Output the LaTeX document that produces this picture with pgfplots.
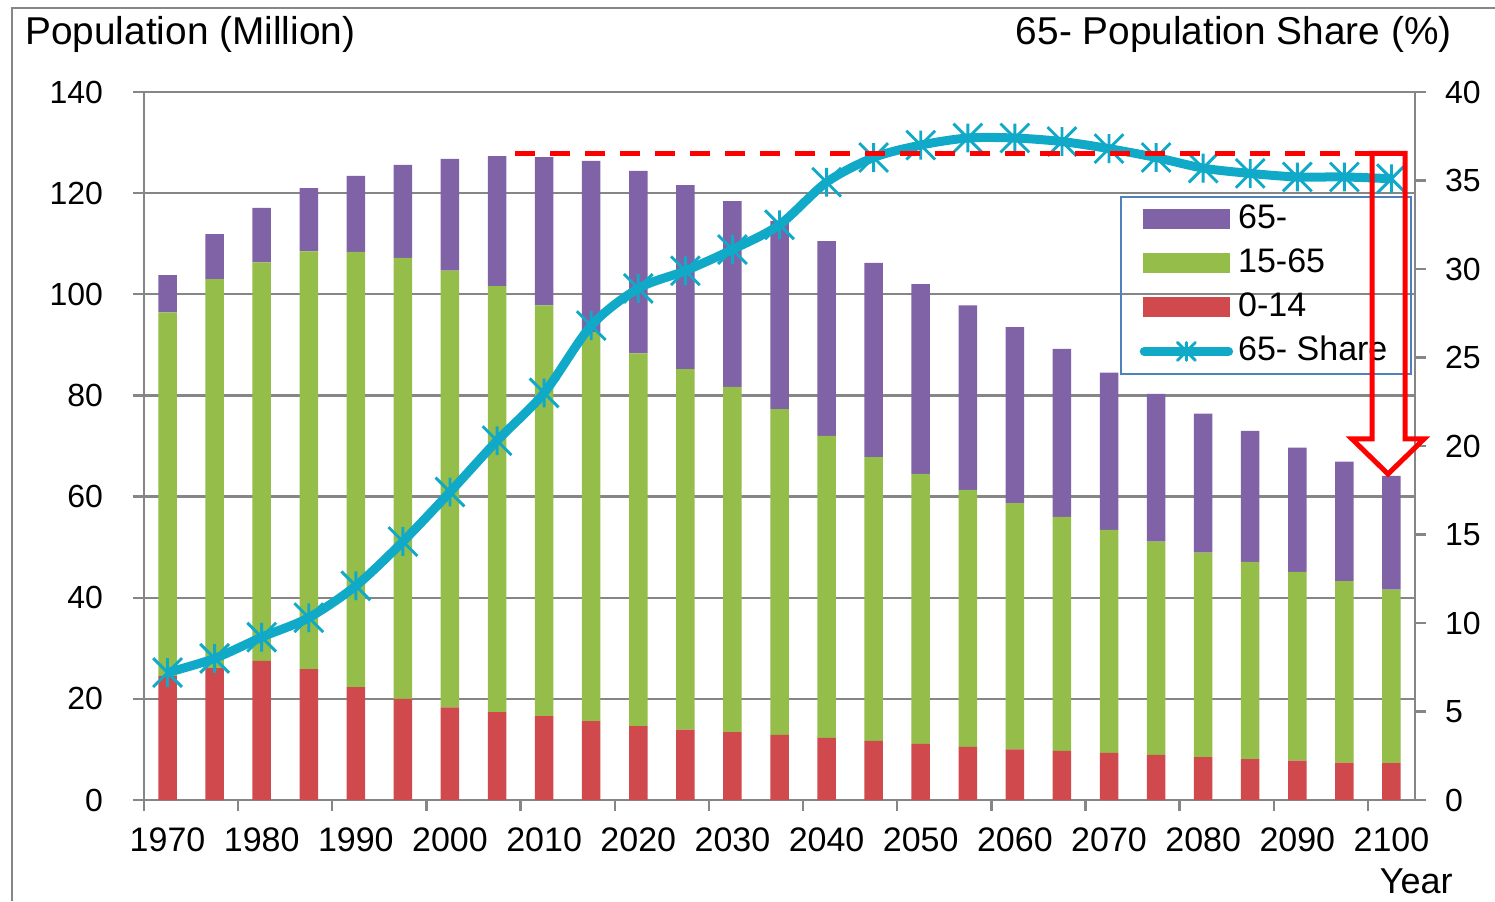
\documentclass[border=0pt]{standalone}
\usepackage{fontspec}
\setmainfont{Liberation Sans}
\usepackage{pgfplots}
\pgfplotsset{compat=1.18}
\usepackage{pgfplotstable}

\definecolor{colold}{RGB}{128,98,166}
\definecolor{colwork}{RGB}{148,189,74}
\definecolor{colyoung}{RGB}{207,73,77}
\definecolor{colshare}{RGB}{16,170,200}
\definecolor{axgray}{RGB}{134,134,134}
\definecolor{lgblue}{RGB}{79,129,189}

% Excel-style star marker: an X with a vertical bar
\pgfdeclareplotmark{xstar}{%
  \pgfpathmoveto{\pgfqpoint{0pt}{\pgfplotmarksize}}%
  \pgfpathlineto{\pgfqpoint{0pt}{-\pgfplotmarksize}}%
  \pgfpathmoveto{\pgfqpoint{-\pgfplotmarksize}{-\pgfplotmarksize}}%
  \pgfpathlineto{\pgfqpoint{\pgfplotmarksize}{\pgfplotmarksize}}%
  \pgfpathmoveto{\pgfqpoint{-\pgfplotmarksize}{\pgfplotmarksize}}%
  \pgfpathlineto{\pgfqpoint{\pgfplotmarksize}{-\pgfplotmarksize}}%
  \pgfusepathqstroke}

\pgfplotsset{
  barlegend/.style={legend image code/.code={%
    \path (-9.3pt,0pt) (44.7pt,0pt);
    \fill[#1] (0pt,-4.6pt) rectangle (42.2pt,4.6pt);}},
  linelegend/.style={legend image code/.code={%
    \path (-9.3pt,0pt) (44.7pt,0pt);
    \draw[##1, line cap=round, mark size=4.5pt, mark repeat=2, mark phase=2]
      plot coordinates {(0pt,0pt) (21.1pt,0pt) (42.2pt,0pt)};}},
}

\pgfplotstableread{
i year young work old share
0 1970 24.5 71.9 7.4 7.2
1 1975 26.1 76.9 8.9 8.0
2 1980 27.5 78.8 10.8 9.2
3 1985 25.9 82.6 12.5 10.3
4 1990 22.3 86.1 15.0 12.1
5 1995 20.0 87.2 18.4 14.6
6 2000 18.3 86.4 22.1 17.4
7 2005 17.4 84.2 25.7 20.3
8 2010 16.6 81.2 29.3 23.0
9 2015 15.6 76.9 33.9 26.8
10 2020 14.6 73.7 36.1 28.9
11 2025 13.9 71.3 36.4 29.9
12 2030 13.4 68.3 36.7 31.1
13 2035 12.9 64.4 37.2 32.5
14 2040 12.3 59.7 38.5 34.9
15 2045 11.7 56.1 38.4 36.3
16 2050 11.1 53.4 37.5 37.0
17 2055 10.5 50.8 36.5 37.4
18 2060 10.0 48.7 34.8 37.4
19 2065 9.7 46.3 33.2 37.2
20 2070 9.3 44.1 31.1 36.8
21 2075 8.9 42.2 29.2 36.3
22 2080 8.5 40.4 27.5 35.7
23 2085 8.1 39.0 25.9 35.4
24 2090 7.8 37.3 24.6 35.2
25 2095 7.4 35.9 23.6 35.2
26 2100 7.3 34.3 22.5 35.1
}\pop

\newcommand{\tickfont}{\fontsize{16}{19}\selectfont}

\begin{document}
\begin{tikzpicture}
\useasboundingbox (0,0) rectangle (747.5pt,450.5pt);

% chart frame (cropped)
\draw[axgray, line width=1pt] (6pt,0pt) -- (6pt,446.5pt) -- (747.5pt,446.5pt);

\begin{axis}[
  at={(72pt,50.5pt)}, anchor=south west,
  scale only axis, width=635.5pt, height=354pt,
  xmin=-0.5, xmax=26.5, ymin=0, ymax=140,
  ybar stacked, bar width=9.25pt,
  axis x line*=bottom, axis y line*=left,
  axis line style={draw=axgray, line width=1.2pt},
  ytick={0,20,...,140},
  ymajorgrids, grid style={draw=axgray, line width=1.2pt},
  xtick={-0.5,1.5,...,25.5}, xticklabels={},
  extra x ticks={0,2,...,26},
  extra x tick labels={1970,1980,1990,2000,2010,2020,2030,2040,2050,2060,2070,2080,2090,2100},
  extra x tick style={major tick length=0pt},
  tick align=outside, major tick length=5.5pt,
  tick style={draw=axgray, line width=1.2pt},
  tick label style={font=\tickfont},
  xticklabel style={font=\fontsize{17}{20}\selectfont},
  /pgf/number format/assume math mode=true,
  yticklabel shift=11.5pt,
  xticklabel shift=10.5pt,
]
\addplot[fill=colyoung, draw=none] table[x=i, y=young]{\pop};
\addplot[fill=colwork, draw=none] table[x=i, y=work]{\pop};
\addplot[fill=colold, draw=none] table[x=i, y=old]{\pop};
\end{axis}

\begin{axis}[
  at={(72pt,50.5pt)}, anchor=south west,
  scale only axis, width=635.5pt, height=354pt,
  xmin=-0.5, xmax=26.5, ymin=0, ymax=40,
  axis x line=none, axis y line*=right,
  axis line style={draw=axgray, line width=1.2pt},
  ytick={0,5,...,40},
  tick align=outside, major tick length=5.5pt,
  tick style={draw=axgray, line width=1.2pt},
  tick label style={font=\tickfont},
  /pgf/number format/assume math mode=true,
  yticklabel shift=6pt,
  legend style={at={(0.768,0.8535)}, anchor=north west,
    draw=lgblue, line width=1pt, fill=none, inner sep=0pt,
    row sep=0pt,
    nodes={inner xsep=0pt, inner ysep=2.75pt, text height=13pt, text depth=3.6pt,
      font=\fontsize{17}{20}\selectfont}},
  legend cell align=left,
]
\addlegendimage{barlegend=colold}
\addlegendimage{barlegend=colwork}
\addlegendimage{barlegend=colyoung}
\addplot[colshare, line width=4.5pt, smooth, mark=xstar, mark size=7.2pt,
  mark options={line width=1.45pt, solid}, linelegend]
  table[x=i, y=share]{\pop};
\legend{\makebox[86.2pt][l]{65-},\makebox[86.2pt][l]{15-65},\makebox[86.2pt][l]{0-14},\makebox[86.2pt][l]{65- Share}}
\end{axis}

% red reference line and arrow
\draw[red, line width=2.5pt, dash pattern=on 10pt off 7.5pt]
  (257.5pt,373.75pt) -- (686pt,373.75pt);
\draw[red, line width=2.5pt, miter limit=10]
  (686pt,373.75pt) -- (686pt,231pt) -- (676pt,231pt) -- (694pt,213.5pt)
  -- (712pt,231pt) -- (702.5pt,231pt) -- (702.5pt,373.75pt) -- cycle;

% titles
\node[anchor=base west, inner sep=0pt, font=\fontsize{19.4}{23}\selectfont]
  at (12.5pt,428pt) {Population (Million)};
\node[anchor=base east, inner sep=0pt, font=\fontsize{19.4}{23}\selectfont]
  at (726pt,428pt) {65- Population Share (\%)};
\node[anchor=base east, inner sep=0pt, font=\fontsize{18}{21}\selectfont]
  at (726.5pt,4pt) {Year};
\end{tikzpicture}
\end{document}
